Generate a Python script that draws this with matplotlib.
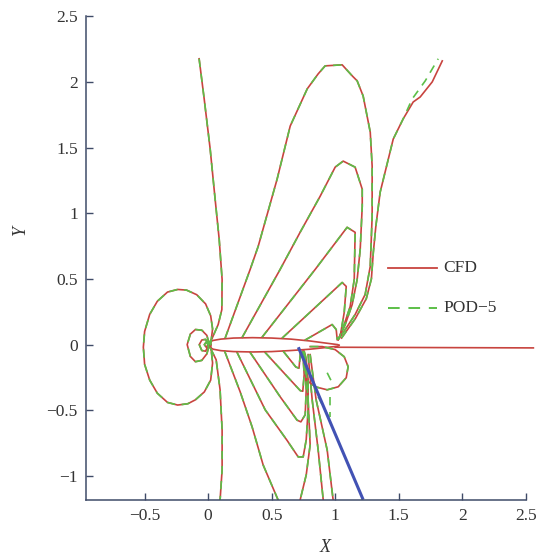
import matplotlib.pyplot as plt

plt.rcParams['font.family'] = ['Liberation Serif', 'DejaVu Serif']
plt.rcParams['mathtext.fontset'] = 'stix'

# colours used in the original figure
red = '#c8443f'
green = '#5cbf48'
blue = '#4252b4'
axcol = '#3f4b68'

## ---------------------------------------------------------------------------------
## contour lines (x, y in chord units)
## ---------------------------------------------------------------------------------

# airfoil surface and wake (CFD only)
foil_up_x = [0, 0.01, 0.04, 0.1, 0.2, 0.35, 0.5, 0.65, 0.8, 0.9, 1.02, 1.03]
foil_up_y = [0, 0.02, 0.032, 0.042, 0.05, 0.053, 0.05, 0.042, 0.028, 0.015, 0.0, -0.005]
foil_lo_x = [0, 0.01, 0.04, 0.1, 0.2, 0.35, 0.5, 0.65, 0.8, 0.9, 1.02, 1.03]
foil_lo_y = [0, -0.02, -0.035, -0.046, -0.053, -0.056, -0.053, -0.045, -0.035, -0.025, -0.012, -0.005]
wake_x = [1.0, 2.56]
wake_y = [-0.02, -0.025]

# closed loops ahead of the leading edge
loop1_x = [0.02, 0.035, 0.02, -0.02, -0.09, -0.17, -0.24, -0.32, -0.40, -0.46, -0.50, -0.51,
           -0.50, -0.46, -0.40, -0.32, -0.24, -0.16, -0.10, -0.03, 0.02, 0.035, 0.02]
loop1_y = [0.0, 0.12, 0.22, 0.31, 0.38, 0.415, 0.42, 0.40, 0.33, 0.23, 0.10, -0.02,
           -0.15, -0.27, -0.37, -0.44, -0.46, -0.45, -0.42, -0.36, -0.27, -0.14, 0.0]
loop2_x = [0.01, -0.01, -0.05, -0.10, -0.14, -0.165, -0.14, -0.10, -0.05, -0.01, 0.01]
loop2_y = [0.0, 0.07, 0.11, 0.115, 0.08, 0.0, -0.09, -0.13, -0.12, -0.07, 0.0]
loop3_x = [0.005, -0.02, -0.05, -0.07, -0.05, -0.02, 0.005]
loop3_y = [0.0, 0.04, 0.035, 0.0, -0.045, -0.05, 0.0]
loop4_x = [0.0, -0.015, -0.03, -0.015, 0.0]
loop4_y = [0.0, 0.02, 0.0, -0.02, 0.0]

# lines above the airfoil
up0_x = [-0.071, -0.031, 0.016, 0.055, 0.087, 0.110, 0.108, 0.079, 0.030, 0.0]
up0_y = [2.176, 1.870, 1.489, 1.107, 0.802, 0.496, 0.267, 0.153, 0.045, 0.0]
up1_x = [0.134, 0.331, 0.394, 0.543, 0.646, 0.780, 0.866, 0.921, 1.055, 1.134, 1.173, 1.220,
         1.276, 1.291, 1.291, 1.276, 1.236, 1.157, 1.079, 1.024]
up1_y = [0.05, 0.573, 0.748, 1.260, 1.664, 1.947, 2.061, 2.122, 2.130, 2.046, 2.008, 1.893,
         1.618, 1.359, 0.977, 0.595, 0.382, 0.229, 0.115, 0.038]
up2_x = [0.268, 0.567, 0.724, 0.882, 1.0, 1.063, 1.157, 1.213, 1.213, 1.197, 1.173, 1.134, 1.079, 1.024]
up2_y = [0.055, 0.573, 0.855, 1.130, 1.351, 1.397, 1.351, 1.183, 1.053, 0.725, 0.496, 0.305, 0.153, 0.038]
up3_x = [0.425, 0.843, 1.094, 1.157, 1.150, 1.118, 1.063, 1.024]
up3_y = [0.057, 0.573, 0.893, 0.855, 0.496, 0.290, 0.130, 0.038]
up4_x = [0.583, 1.055, 1.087, 1.071, 1.039]
up4_y = [0.05, 0.473, 0.443, 0.244, 0.061]
up5_x = [0.764, 0.976, 1.008, 1.016]
up5_y = [0.035, 0.153, 0.115, 0.038]
right_x = [1.05, 1.16, 1.245, 1.285, 1.30, 1.32, 1.354, 1.457, 1.535, 1.614, 1.669, 1.764, 1.843]
right_y = [0.05, 0.2, 0.35, 0.5, 0.7, 0.9, 1.160, 1.565, 1.718, 1.847, 1.885, 2.0, 2.160]
right_pod_x = [1.05, 1.16, 1.245, 1.285, 1.30, 1.32, 1.354, 1.457, 1.535, 1.606, 1.709, 1.811]
right_pod_y = [0.05, 0.2, 0.35, 0.5, 0.7, 0.9, 1.160, 1.565, 1.718, 1.870, 2.008, 2.176]

# lines below the airfoil
lo1_x = [0.016, 0.063, 0.094, 0.110, 0.110, 0.094]
lo1_y = [-0.023, -0.115, -0.344, -0.649, -0.954, -1.183]
lo2_x = [0.13, 0.252, 0.346, 0.433, 0.551]
lo2_y = [-0.05, -0.359, -0.626, -0.916, -1.183]
lo3_x = [0.228, 0.449, 0.622, 0.709, 0.748, 0.772, 0.787, 0.787, 0.772, 0.756]
lo3_y = [-0.06, -0.496, -0.73, -0.855, -0.855, -0.725, -0.496, -0.267, -0.115, -0.05]
lo4_x = [0.331, 0.567, 0.700, 0.730, 0.764, 0.772, 0.764, 0.748]
lo4_y = [-0.06, -0.397, -0.575, -0.588, -0.534, -0.344, -0.153, -0.05]
lo5_x = [0.449, 0.62, 0.725, 0.745, 0.756, 0.745]
lo5_y = [-0.06, -0.24, -0.35, -0.355, -0.229, -0.05]
lo6_x = [0.591, 0.69, 0.715, 0.728]
lo6_y = [-0.05, -0.17, -0.18, -0.05]
down1_x = [0.764, 0.787, 0.803, 0.772, 0.724]
down1_y = [-0.076, -0.42, -0.763, -0.992, -1.183]
down2_x = [0.787, 0.819, 0.866, 0.906]
down2_y = [-0.076, -0.42, -0.802, -1.183]
down3_x = [0.803, 0.850, 0.937, 0.984]
down3_y = [-0.076, -0.42, -0.802, -1.183]
bubble_x = [0.803, 0.898, 1.0, 1.071, 1.102, 1.087, 1.024, 0.937, 0.843, 0.780]
bubble_y = [-0.015, -0.015, -0.038, -0.092, -0.168, -0.252, -0.321, -0.344, -0.321, -0.275]

# POD-5 pieces with no CFD counterpart
pod_extra1_x = [0.937, 0.976]
pod_extra1_y = [-0.214, -0.290]
pod_extra2_x = [0.961, 0.961]
pod_extra2_y = [-0.397, -0.55]
pod_extra3_x = [0.866, 0.961]
pod_extra3_y = [-0.397, -0.573]

# shock line
shock_x = [0.71, 1.22]
shock_y = [-0.02, -1.18]

# axis ticks
xticks = [-0.5, 0, 0.5, 1, 1.5, 2, 2.5]
xticklabels = ['\u22120.5', '0', '0.5', '1', '1.5', '2', '2.5']
yticks = [-1, -0.5, 0, 0.5, 1, 1.5, 2, 2.5]
yticklabels = ['\u22121', '\u22120.5', '0', '0.5', '1', '1.5', '2', '2.5']

common = [(loop1_x, loop1_y), (loop2_x, loop2_y), (loop3_x, loop3_y), (loop4_x, loop4_y),
          (up0_x, up0_y), (up1_x, up1_y), (up2_x, up2_y), (up3_x, up3_y), (up4_x, up4_y),
          (up5_x, up5_y), (lo1_x, lo1_y), (lo2_x, lo2_y), (lo3_x, lo3_y), (lo4_x, lo4_y),
          (lo5_x, lo5_y), (lo6_x, lo6_y), (down1_x, down1_y), (down2_x, down2_y),
          (down3_x, down3_y), (bubble_x, bubble_y)]
cfd_lines = common + [(right_x, right_y), (foil_up_x, foil_up_y), (foil_lo_x, foil_lo_y)]
pod_lines = common + [(right_pod_x, right_pod_y), (pod_extra1_x, pod_extra1_y),
                      (pod_extra2_x, pod_extra2_y), (pod_extra3_x, pod_extra3_y)]

## ---------------------------------------------------------------------------------
## plot
## ---------------------------------------------------------------------------------
fig = plt.figure(figsize=(5.42, 5.59), dpi=100)
ax = fig.add_axes([0.159, 0.1055, 0.811, 0.8655])

for cx, cy in cfd_lines:
    ax.plot(cx, cy, color=red, lw=1.2, solid_joinstyle='round')
ax.plot(wake_x, wake_y, color=red, lw=1.2, clip_on=False)
for cx, cy in pod_lines:
    ax.plot(cx, cy, color=green, lw=1.2, dashes=(5, 4))
ax.plot(shock_x, shock_y, color=blue, lw=2.2, solid_capstyle='butt')

ax.set_xlim(-0.96, 2.5)
ax.set_ylim(-1.183, 2.5)
ax.set_xticks(xticks)
ax.set_xticklabels(xticklabels)
ax.set_yticks(yticks)
ax.set_yticklabels(yticklabels)
ax.tick_params(direction='in', length=5, width=1.0, color=axcol, labelsize=12.5,
               labelcolor='#333333', pad=6)
ax.spines['top'].set_visible(False)
ax.spines['right'].set_visible(False)
for s in ['left', 'bottom']:
    ax.spines[s].set_color(axcol)
    ax.spines[s].set_linewidth(1.1)

# axis titles
fig.text(0.600, 0.020, 'X', fontsize=13, style='italic', color='#333333', ha='center', va='center')
fig.text(0.037, 0.589, 'Y', fontsize=13, style='italic', color='#333333', ha='center', va='center',
         rotation=90)

# legend drawn by hand
ax.plot([0.686, 0.797], [0.479, 0.479], color=red, lw=1.3, transform=ax.transAxes)
ax.plot([0.686, 0.797], [0.397, 0.397], color=green, lw=1.4, dashes=(6, 4.5), transform=ax.transAxes)
ax.text(0.812, 0.479, 'CFD', fontsize=12.5, color='#333333', va='center', transform=ax.transAxes)
ax.text(0.812, 0.397, 'POD\u22125', fontsize=12.5, color='#333333', va='center', transform=ax.transAxes)

fig.savefig('out.png', dpi=100)
